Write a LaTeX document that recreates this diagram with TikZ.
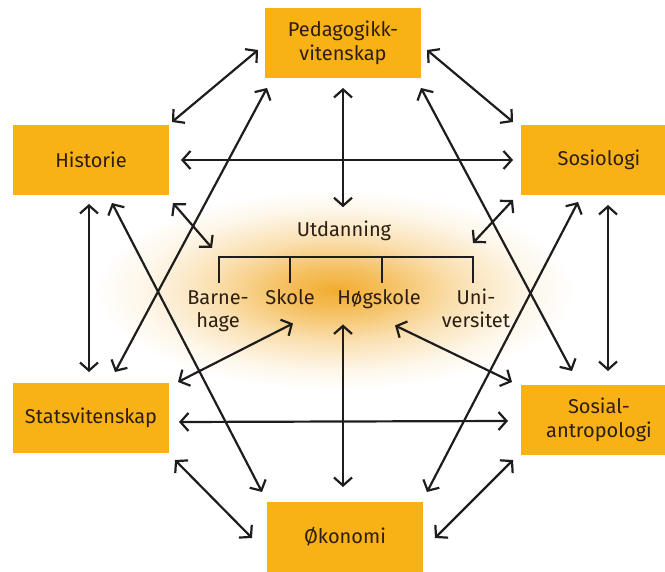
\documentclass[tikz,border=0pt]{standalone}
\usepackage{fontspec}
\setmainfont{Fira Sans}
\usetikzlibrary{arrows.meta}
\definecolor{boxyellow}{RGB}{249,178,22}
\definecolor{glowyellow}{RGB}{241,168,36}
\definecolor{textdark}{RGB}{45,30,20}
\definecolor{linedark}{RGB}{30,28,28}
\pgfdeclareradialshading{glow}{\pgfpoint{0bp}{0bp}}{%
    color(0bp)=(glowyellow!95!white);
    color(6bp)=(glowyellow!70!white);
    color(13bp)=(glowyellow!35!white);
    color(20bp)=(glowyellow!10!white);
    color(25bp)=(white);
    color(50bp)=(white)}
\tikzstyle{arrow} = [
    line width=2.2pt,
    draw=linedark,
    <->,
    >={Straight Barb[length=8pt,width=18pt]}
]

\begin{document}
\begin{tikzpicture}[
    x=1pt, y=-1pt,
    box/.style={
        rectangle,
        fill=boxyellow,
        align=center,
        minimum width=156pt,
        minimum height=70pt,
        outer sep=0pt,
        text=textdark,
        font=\fontsize{20}{24}\selectfont
    },
    edu/.style={
        align=center,
        inner sep=0pt,
        text=textdark,
        font=\fontsize{20}{23}\selectfont
    },
    bracket/.style={line width=2.2pt, draw=linedark}
]
\clip (0,0) rectangle (665,572);

% Glow behind Utdanning
\shade[shading=glow] (335,290) ellipse [x radius=240, y radius=100];

% Subjects
\node[box] (ped) at (343,43) {Pedagogikk-\\vitenskap};
\node[box] (hist) at (91,160) {Historie};
\node[box] (sos) at (599,160) {Sosiologi};
\node[box] (stat) at (91,418) {Statsvitenskap};
\node[box] (sosant) at (599,420) {Sosial-\\antropologi};
\node[box] (oko) at (345,537) {Økonomi};

% Utdanning
\node[edu, anchor=base] (utd) at (344,237) {Utdanning};
\coordinate (brL) at (219,257);
\coordinate (brR) at (473,257);
\draw[bracket] (219,283) -- (brL) -- (brR) -- (473,283);
\draw[bracket] (290,257) -- (290,283);
\draw[bracket] (382,257) -- (382,283);
\node[edu, anchor=base] (barn) at (218,328) {Barne-\\hage};
\node[edu, anchor=base] (skole) at (290,305) {Skole};
\node[edu, anchor=base] (hogsk) at (379,305) {Høgskole};
\node[edu, anchor=base] (uni) at (476,328) {Uni-\\versitet};

% Arrows from the top
\draw[arrow] ([shift={(-7,-28)}]ped.south west) -- ([shift={(3,-3)}]hist.north east);
\draw[arrow] ([shift={(6,-28)}]ped.south east) -- ([shift={(-8,-3)}]sos.north west);
\draw[arrow] ([shift={(0,10)}]ped.south) -- ([shift={(-1,-14)}]utd.north);
\draw[arrow] ([shift={(2,10)}]ped.south west) -- ([shift={(24,-11)}]stat.north);
\draw[arrow] ([shift={(0,10)}]ped.south east) -- ([shift={(-27,-14)}]sosant.north);

% Historie and Sosiologi
\draw[arrow] ([shift={(12,0)}]hist.east) -- ([shift={(-8,0)}]sos.west);
\draw[arrow] ([shift={(-2,9)}]hist.south) -- ([shift={(-2,-11)}]stat.north);
\draw[arrow] ([shift={(21,8)}]hist.south) -- ([shift={(-5,-10)}]oko.north west);
\draw[arrow] ([shift={(4,8)}]hist.south east) -- ([shift={(-7,-9)}]brL);
\draw[arrow] ([shift={(-8,5)}]sos.south west) -- ([shift={(0,-14)}]brR);
\draw[arrow] ([shift={(-21,7)}]sos.south) -- ([shift={(4,-10)}]oko.north east);
\draw[arrow] ([shift={(9,10)}]sos.south) -- ([shift={(9,-14)}]sosant.north);

% Lower half
\draw[arrow] ([shift={(9,-1)}]stat.north east) -- ([shift={(3,18)}]skole.south);
\draw[arrow] ([shift={(-36,15)}]hogsk.south) -- ([shift={(-2,-15)}]oko.north);
\draw[arrow] ([shift={(16,16)}]hogsk.south) -- ([shift={(-9,-3)}]sosant.north west);
\draw[arrow] ([shift={(10,4)}]stat.east) -- ([shift={(-13,1)}]sosant.west);
\draw[arrow] ([shift={(6,7)}]stat.south east) -- ([shift={(-15,1)}]oko.west);
\draw[arrow] ([shift={(-8,5)}]sosant.south west) -- ([shift={(12,1)}]oko.east);

\end{tikzpicture}
\end{document}
